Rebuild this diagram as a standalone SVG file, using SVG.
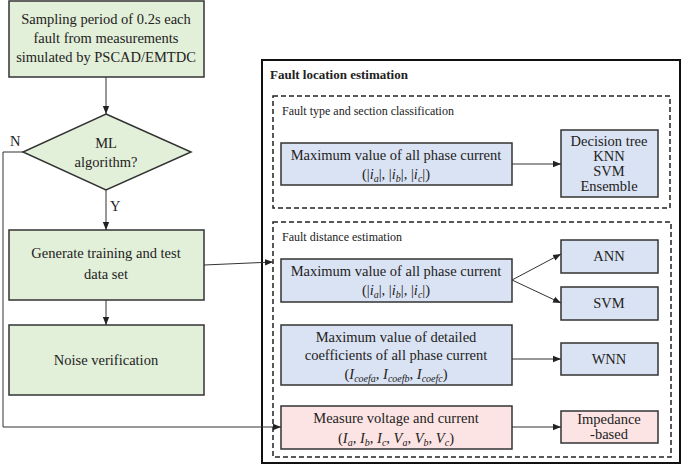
<svg xmlns="http://www.w3.org/2000/svg" width="685" height="467" viewBox="0 0 685 467">
<style>
text{font-family:'Liberation Serif','Times New Roman','DejaVu Serif',serif;font-size:14.5px;fill:#222;text-anchor:middle}
.g{fill:#e2efd9;stroke:#333;stroke-width:1.5}
.b{fill:#dae3f3;stroke:#333;stroke-width:1.5}
.p{fill:#fde4e4;stroke:#333;stroke-width:1.5}
.d{fill:none;stroke:#222;stroke-width:1.5;stroke-dasharray:5,3}
.c{fill:none;stroke:#333;stroke-width:1;marker-end:url(#a)}
.s{font-size:12px;text-anchor:start}
.m{font-style:italic}
.sub{font-size:10px;font-style:italic}
</style>
<defs><marker id="a" viewBox="0 0 10 10" refX="10" refY="5" markerWidth="8" markerHeight="8" orient="auto"><path d="M0,1 L10,5 L0,9z" fill="#222"/></marker></defs>
<rect x="0" y="0" width="685" height="467" fill="#fff"/>
<g id="n1"><rect class="g" x="9" y="1" width="195" height="76"/><text x="106" y="24">Sampling period of 0.2s each</text><text x="106" y="43">fault from measurements</text><text x="106" y="62">simulated by PSCAD/EMTDC</text></g>
<g id="n2"><polygon class="g" points="106,114 191,152 106,190 23,152"/><text x="106" y="148">ML</text><text x="106" y="167">algorithm?</text></g>
<g id="n3"><rect class="g" x="9" y="230" width="195" height="70"/><text x="106" y="258">Generate training and test</text><text x="106" y="279">data set</text></g>
<g id="n4"><rect class="g" x="9" y="325" width="195" height="70"/><text x="106" y="365">Noise verification</text></g>
<g id="outer"><rect x="262" y="60" width="418" height="403" fill="none" stroke="#111" stroke-width="2"/><text x="270" y="79" style="text-anchor:start;font-weight:bold;font-size:13px">Fault location estimation</text></g>
<g id="sec1"><rect class="d" x="273" y="96" width="397" height="112"/><text class="s" x="282" y="115">Fault type and section classification</text></g>
<g id="sec2"><rect class="d" x="273" y="222" width="398" height="235"/><text class="s" x="282" y="241">Fault distance estimation</text></g>
<g id="b1"><rect class="b" x="281" y="143" width="231" height="42"/><text x="396" y="160">Maximum value of  all phase current</text><text x="396" y="179">(|<tspan class="m">i</tspan><tspan class="sub" dy="3">a</tspan><tspan dy="-3">|, |</tspan><tspan class="m">i</tspan><tspan class="sub" dy="3">b</tspan><tspan dy="-3">|, |</tspan><tspan class="m">i</tspan><tspan class="sub" dy="3">c</tspan><tspan dy="-3">|)</tspan></text></g>
<g id="dt"><rect class="b" x="561" y="130" width="97" height="67"/><text x="609" y="146">Decision tree</text><text x="609" y="161">KNN</text><text x="609" y="176">SVM</text><text x="609" y="191">Ensemble</text></g>
<g id="b2"><rect class="b" x="281" y="259" width="231" height="43"/><text x="396" y="276">Maximum value of  all phase current</text><text x="396" y="295">(|<tspan class="m">i</tspan><tspan class="sub" dy="3">a</tspan><tspan dy="-3">|, |</tspan><tspan class="m">i</tspan><tspan class="sub" dy="3">b</tspan><tspan dy="-3">|, |</tspan><tspan class="m">i</tspan><tspan class="sub" dy="3">c</tspan><tspan dy="-3">|)</tspan></text></g>
<g id="ann"><rect class="b" x="561" y="240" width="97" height="33"/><text x="609" y="261">ANN</text></g>
<g id="svm"><rect class="b" x="561" y="287" width="97" height="33"/><text x="609" y="308">SVM</text></g>
<g id="b3"><rect class="b" x="281" y="325" width="231" height="60"/><text x="396" y="342">Maximum value of detailed</text><text x="396" y="360">coefficients of all phase current</text><text x="396" y="379">(<tspan class="m">I</tspan><tspan class="sub" dy="3">coefa</tspan><tspan dy="-3">, </tspan><tspan class="m">I</tspan><tspan class="sub" dy="3">coefb</tspan><tspan dy="-3">, </tspan><tspan class="m">I</tspan><tspan class="sub" dy="3">coefc</tspan><tspan dy="-3">)</tspan></text></g>
<g id="wnn"><rect class="b" x="561" y="343" width="97" height="32"/><text x="609" y="364">WNN</text></g>
<g id="pk"><rect class="p" x="281" y="406" width="231" height="43"/><text x="396" y="423">Measure voltage and current</text><text x="396" y="443">(<tspan class="m">I</tspan><tspan class="sub" dy="3">a</tspan><tspan dy="-3">, </tspan><tspan class="m">I</tspan><tspan class="sub" dy="3">b</tspan><tspan dy="-3">, </tspan><tspan class="m">I</tspan><tspan class="sub" dy="3">c</tspan><tspan dy="-3">, </tspan><tspan class="m">V</tspan><tspan class="sub" dy="3">a</tspan><tspan dy="-3">, </tspan><tspan class="m">V</tspan><tspan class="sub" dy="3">b</tspan><tspan dy="-3">, </tspan><tspan class="m">V</tspan><tspan class="sub" dy="3">c</tspan><tspan dy="-3">)</tspan></text></g>
<g id="imp"><rect class="p" x="561" y="411" width="97" height="32"/><text x="609" y="424">Impedance</text><text x="609" y="439">-based</text></g>
<g id="connectors">
<path class="c" d="M106,77 V114"/>
<path class="c" d="M106,190 V230"/>
<path class="c" d="M106,300 V325"/>
<path class="c" d="M23,152 H3 V427 H281"/>
<path class="c" d="M204,265 L273,262"/>
<path class="c" d="M512,164 H561"/>
<path class="c" d="M512,280 L561,254"/>
<path class="c" d="M512,280 L561,303"/>
<path class="c" d="M512,359 H561"/>
<path class="c" d="M512,427 H561"/>
<text x="10" y="146" style="text-anchor:start">N</text>
<text x="110" y="211" style="text-anchor:start">Y</text>
</g>
</svg>
